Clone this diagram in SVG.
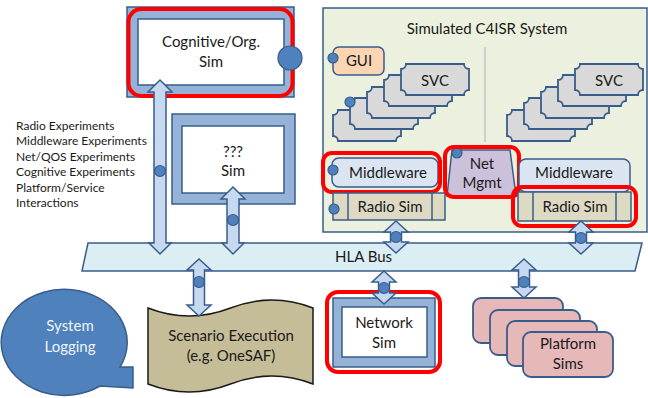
<svg xmlns="http://www.w3.org/2000/svg" width="648" height="398" viewBox="0 0 648 398">
  <defs>
    <style>
      text { font-family: "Lato", "Liberation Sans", sans-serif; fill: #1a1a1a; }
      .lbl { font-size: 15px; text-anchor: middle; }
      .list { font-size: 12px; }
      .frame { fill: #95b3d7; stroke: #385d8a; stroke-width: 1.5; }
      .inner { fill: #ffffff; stroke: #385d8a; stroke-width: 1.5; }
      .arrow { fill: #c6d9f1; stroke: #385d8a; stroke-width: 1.5; stroke-linejoin: miter; }
      .dot { fill: #4f81bd; stroke: #385d8a; stroke-width: 1.2; }
      .hi { fill: none; stroke: #ff0000; stroke-width: 4; }
      .svc { fill: #d9d9d9; stroke: #385d8a; stroke-width: 1.8; }
      .mw { fill: #dbe5f1; stroke: #385d8a; stroke-width: 1.5; }
      .radio { fill: #ddd9c3; stroke: #385d8a; stroke-width: 1.5; }
      .plat { fill: #e6b9b8; stroke: #385d8a; stroke-width: 1.8; }
      .div { stroke: #385d8a; stroke-width: 1.5; }
    </style>
    <!-- plaque outline with concave corners, 68 x 31 -->
    <path id="plaque" d="M5,0 H63 A5,5 0 0 0 68,5 V26 A5,5 0 0 0 63,31 H5 A5,5 0 0 0 0,26 V5 A5,5 0 0 0 5,0 Z"/>
    <rect id="platcard" width="90" height="45" rx="8"/>
  </defs>

  <!-- simulated system panel -->
  <g id="c4isr">
    <rect x="323" y="8" width="324" height="224" fill="#ebf1de" stroke="#385d8a" stroke-width="1.5"/>
    <text x="487" y="34" class="lbl">Simulated C4ISR System</text>
    <line x1="485" y1="47" x2="485" y2="142" stroke="#b0b0b0" stroke-width="1"/>
  </g>

  <g id="gui">
    <rect x="333" y="47" width="51" height="28" rx="6" fill="#fcd5b5" stroke="#385d8a" stroke-width="1.5"/>
    <text x="359" y="66" class="lbl">GUI</text>
    <circle cx="333" cy="58" r="5" class="dot"/>
  </g>

  <g id="svc-left">
    <use href="#plaque" x="333" y="110" class="svc"/>
    <use href="#plaque" x="350" y="98" class="svc"/>
    <use href="#plaque" x="367" y="87" class="svc"/>
    <use href="#plaque" x="384" y="75" class="svc"/>
    <use href="#plaque" x="401" y="64" class="svc"/>
    <text x="435" y="86" class="lbl">SVC</text>
    <circle cx="350" cy="102" r="5" class="dot"/>
  </g>

  <g id="svc-right">
    <use href="#plaque" x="507" y="110" class="svc"/>
    <use href="#plaque" x="524" y="98" class="svc"/>
    <use href="#plaque" x="541" y="87" class="svc"/>
    <use href="#plaque" x="558" y="75" class="svc"/>
    <use href="#plaque" x="575" y="64" class="svc"/>
    <text x="609" y="86" class="lbl">SVC</text>
  </g>

  <g id="middleware-left">
    <rect x="332" y="158" width="106" height="29" rx="7" class="mw"/>
    <text x="388" y="178" class="lbl">Middleware</text>
    <circle cx="333" cy="170" r="5" class="dot"/>
    <rect x="323" y="153" width="117" height="39" rx="9" class="hi"/>
  </g>

  <g id="radio-left">
    <rect x="333" y="193" width="112" height="27" class="radio"/>
    <line x1="348" y1="193" x2="348" y2="220" class="div"/>
    <line x1="432" y1="193" x2="432" y2="220" class="div"/>
    <text x="390" y="212" class="lbl">Radio Sim</text>
    <circle cx="334" cy="209" r="5" class="dot"/>
  </g>

  <g id="netmgmt">
    <path d="M452,150 H510 L516,196 H447 Z" fill="#ccc1da" stroke="#385d8a" stroke-width="1.5"/>
    <text x="482" y="169" class="lbl">Net</text>
    <text x="482" y="188" class="lbl">Mgmt</text>
    <circle cx="457" cy="153" r="5" class="dot"/>
    <rect x="445" y="147" width="74" height="50" rx="9" class="hi"/>
  </g>

  <g id="middleware-right">
    <rect x="519" y="159" width="111" height="33" rx="7" class="mw"/>
    <text x="574" y="178" class="lbl">Middleware</text>
  </g>

  <g id="radio-right">
    <rect x="518" y="192" width="113" height="29" class="radio"/>
    <line x1="533" y1="192" x2="533" y2="221" class="div"/>
    <line x1="616" y1="192" x2="616" y2="221" class="div"/>
    <text x="575" y="212" class="lbl">Radio Sim</text>
    <rect x="513" y="187" width="123" height="39" rx="9" class="hi"/>
  </g>

  <g id="cognitive-sim">
    <rect x="127" y="7" width="167" height="90" class="frame"/>
    <rect x="138" y="19" width="146" height="66" class="inner"/>
    <text x="211" y="47" class="lbl">Cognitive/Org.</text>
    <text x="211" y="67" class="lbl">Sim</text>
    <rect x="128.5" y="9" width="164" height="87" rx="13" class="hi"/>
    <circle cx="290" cy="58" r="12" class="dot"/>
  </g>

  <g id="unknown-sim">
    <rect x="172" y="114" width="123" height="90" class="frame"/>
    <rect x="182" y="126" width="102" height="67" class="inner"/>
    <text x="233" y="157" class="lbl">???</text>
    <text x="233" y="176" class="lbl">Sim</text>
  </g>

  <g id="experiments">
    <text x="16" y="130" class="list">Radio Experiments</text>
    <text x="16" y="145" class="list">Middleware Experiments</text>
    <text x="16" y="161" class="list">Net/QOS Experiments</text>
    <text x="16" y="176" class="list">Cognitive Experiments</text>
    <text x="16" y="192" class="list">Platform/Service</text>
    <text x="16" y="207" class="list">Interactions</text>
  </g>

  <g id="hla-bus">
    <path d="M88,243 H642 L635,271 H82 Z" fill="#dbeef4" stroke="#385d8a" stroke-width="1.5"/>
    <text x="335" y="262" class="lbl" style="text-anchor:start">HLA Bus</text>
  </g>

  <g id="system-logging">
    <path d="M120,367 H133 V388 L100,386 A63,53 0 1 1 120,367 Z" fill="#4f81bd" stroke="#385d8a" stroke-width="1.5"/>
    <text x="70" y="331" class="lbl" style="fill:#eef3fa">System</text>
    <text x="70" y="352" class="lbl" style="fill:#eef3fa">Logging</text>
  </g>

  <g id="scenario-execution">
    <path d="M148,308 Q189,324 230.5,308 Q272,292 313,308 V384 Q272,368 230.5,384 Q189,400 148,384 Z" fill="#c4bd97" stroke="#1a1a1a" stroke-width="1.5"/>
    <text x="231" y="341" class="lbl">Scenario Execution</text>
    <text x="231" y="361" class="lbl">(e.g. OneSAF)</text>
  </g>

  <g id="network-sim">
    <rect x="333" y="298" width="102" height="69" class="frame"/>
    <rect x="342" y="307" width="85" height="50" class="inner"/>
    <text x="384" y="328" class="lbl">Network</text>
    <text x="384" y="348" class="lbl">Sim</text>
    <rect x="327" y="292" width="113" height="80" rx="11" class="hi"/>
  </g>

  <g id="platform-sims">
    <use href="#platcard" x="473" y="298" class="plat"/>
    <use href="#platcard" x="490" y="310" class="plat"/>
    <use href="#platcard" x="507" y="321" class="plat"/>
    <use href="#platcard" x="523" y="332" class="plat"/>
    <text x="568" y="349" class="lbl">Platform</text>
    <text x="568" y="369" class="lbl">Sims</text>
  </g>

  <!-- double-headed connectors to the HLA bus -->
  <g id="connectors">
    <path class="arrow" d="M160,80 L172,92 H166 V243 H171 L160,254 L149,243 H154 V92 H148 Z"/>
    <circle cx="160" cy="171" r="5.5" class="dot"/>
    <path class="arrow" d="M233,187 L245,199 H239 V243 H244 L233,254 L222,243 H227 V199 H221 Z"/>
    <circle cx="233" cy="220" r="5.5" class="dot"/>
    <path class="arrow" d="M396,221 L408,232 H401.5 V242 H408 L396,253 L384,242 H390.5 V232 H384 Z"/>
    <circle cx="396" cy="237" r="5.5" class="dot"/>
    <path class="arrow" d="M581,221 L593,232 H586.5 V243 H593 L581,254 L569,243 H575.5 V232 H569 Z"/>
    <circle cx="581" cy="238" r="5.5" class="dot"/>
    <path class="arrow" d="M199,259 L211,270 H204.5 V305 H211 L199,316 L187,305 H193.5 V270 H187 Z"/>
    <circle cx="199" cy="282" r="5.5" class="dot"/>
    <path class="arrow" d="M384,271 L396,282 H389.5 V293 H396 L384,304 L372,293 H378.5 V282 H372 Z"/>
    <circle cx="384" cy="288" r="5.5" class="dot"/>
    <path class="arrow" d="M524,259 L536,270 H529.5 V287 H536 L524,298 L512,287 H518.5 V270 H512 Z"/>
    <circle cx="524" cy="282" r="5.5" class="dot"/>
  </g>
</svg>
